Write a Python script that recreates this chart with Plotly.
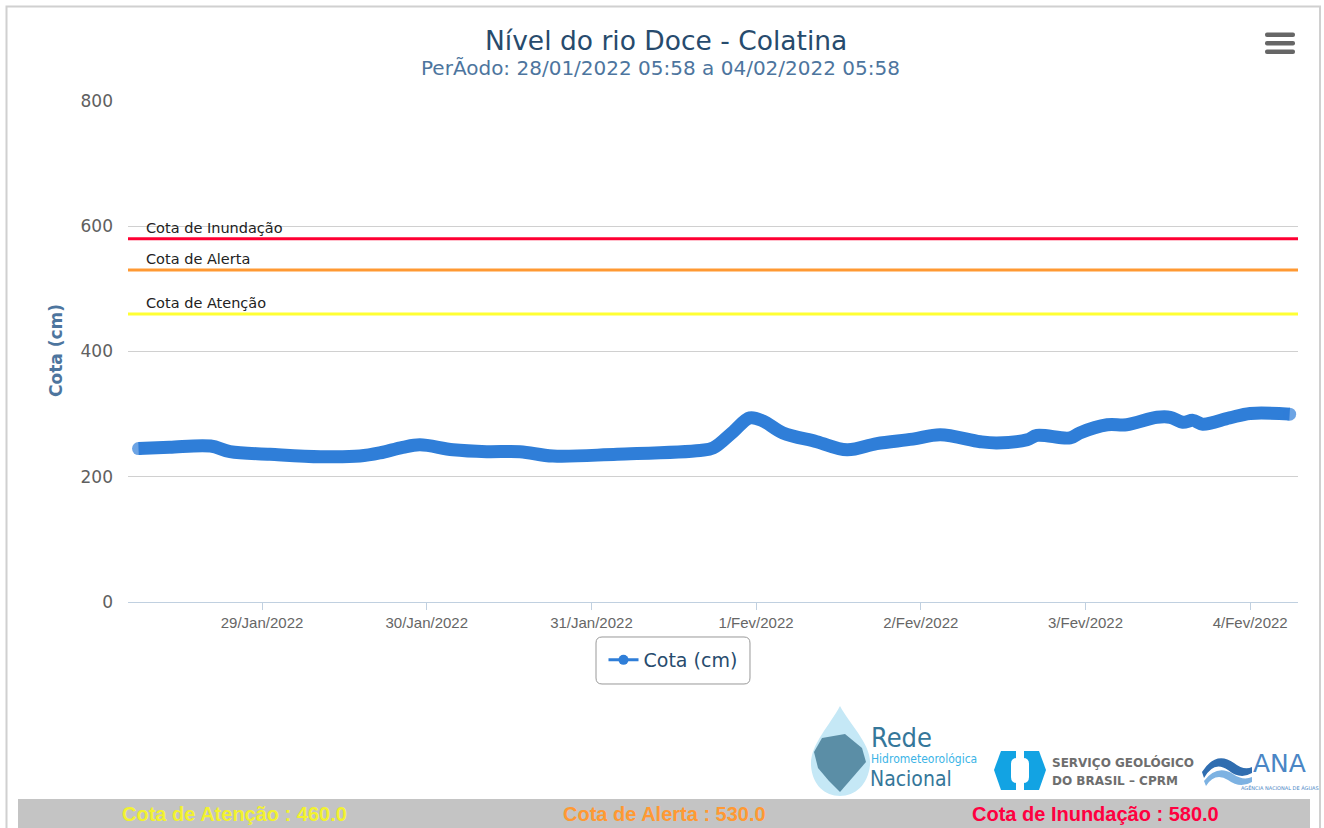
import plotly.graph_objects as go

# ---------------- data ----------------
times = [
    "2022-01-28 06:00", "2022-01-28 10:30", "2022-01-28 16:30", "2022-01-28 19:20",
    "2022-01-29 01:10", "2022-01-29 08:30", "2022-01-29 14:15", "2022-01-29 17:10",
    "2022-01-29 20:30", "2022-01-29 23:00", "2022-01-30 03:50", "2022-01-30 08:45",
    "2022-01-30 13:35", "2022-01-30 18:25", "2022-01-31 03:45", "2022-01-31 15:50",
    "2022-01-31 17:45", "2022-01-31 20:40", "2022-01-31 23:05", "2022-02-01 01:00",
    "2022-02-01 03:55", "2022-02-01 08:50", "2022-02-01 13:15", "2022-02-01 17:35",
    "2022-02-01 22:50", "2022-02-02 02:50", "2022-02-02 08:40", "2022-02-02 11:05",
    "2022-02-02 15:30", "2022-02-02 16:55", "2022-02-02 21:45", "2022-02-02 23:10",
    "2022-02-03 03:10", "2022-02-03 06:00", "2022-02-03 10:25", "2022-02-03 12:20",
    "2022-02-03 14:10", "2022-02-03 15:40", "2022-02-03 17:05", "2022-02-03 21:00",
    "2022-02-04 00:00", "2022-02-04 05:45",
]
cota = [
    245, 247, 249, 240,
    236, 232, 233, 238,
    247, 251, 243, 240,
    240, 233, 236, 242,
    246, 272, 294, 289,
    270, 256, 243, 253,
    260, 267, 256, 254,
    259, 266, 262, 270,
    283, 283, 295, 295,
    287, 290, 284, 294,
    301, 300,
]

tick_vals = ["2022-01-29", "2022-01-30", "2022-01-31", "2022-02-01",
             "2022-02-02", "2022-02-03", "2022-02-04"]
tick_text = ["29/Jan/2022", "30/Jan/2022", "31/Jan/2022", "1/Fev/2022",
             "2/Fev/2022", "3/Fev/2022", "4/Fev/2022"]

limit_names = ["Cota de Atenção", "Cota de Alerta", "Cota de Inundação"]
limit_values = [460, 530, 580]
limit_colors = ["#ffff33", "#ff9933", "#ff0033"]
limit_text_colors = ["#f2f230", "#ff9933", "#ff0040"]

title_text = "Nível do rio Doce - Colatina"
subtitle_text = "PerÃodo: 28/01/2022 05:58 a 04/02/2022 05:58"
series_name = "Cota (cm)"

# ---------------- layout helpers (pixel -> paper) ----------------
W, H = 1324, 828
L, R, T, B = 128, 1298, 101, 602


def px(x):
    return (x - L) / (R - L)


def py(y):
    return (B - y) / (B - T)


def path(cmds):
    out = []
    for c, pts in cmds:
        s = c
        s += " ".join(f"{px(a):.5f},{py(b):.5f}" for a, b in pts)
        out.append(s)
    return " ".join(out) + " Z"


def rrect(x0, y0, x1, y1, r):
    return path([
        ("M", [(x0 + r, y0)]), ("L", [(x1 - r, y0)]), ("Q", [(x1, y0), (x1, y0 + r)]),
        ("L", [(x1, y1 - r)]), ("Q", [(x1, y1), (x1 - r, y1)]), ("L", [(x0 + r, y1)]),
        ("Q", [(x0, y1), (x0, y1 - r)]), ("L", [(x0, y0 + r)]), ("Q", [(x0, y0), (x0 + r, y0)]),
    ])


fig = go.Figure()

marker_sizes = [13] + [0] * (len(cota) - 2) + [13]
fig.add_trace(go.Scatter(
    x=times, y=cota, mode="lines+markers", name=series_name,
    line=dict(color="#2f7ed8", width=13, shape="spline", smoothing=1.0),
    marker=dict(color="#2f7ed8", size=marker_sizes, line=dict(width=0)),
    showlegend=False, hoverinfo="x+y",
))
# legend entry
fig.add_trace(go.Scatter(
    x=[None], y=[None], mode="lines+markers", name=series_name,
    line=dict(color="#2f7ed8", width=3), marker=dict(color="#2f7ed8", size=10),
))

shapes = []
annotations = []

# threshold lines
for name, val, col in zip(limit_names, limit_values, limit_colors):
    shapes.append(dict(type="line", xref="paper", yref="y", x0=0, x1=1, y0=val, y1=val,
                       line=dict(color=col, width=3), layer="below"))
    annotations.append(dict(text=name, xref="paper", yref="y", x=px(144), y=val,
                            xanchor="left", yanchor="bottom", yshift=1, showarrow=False,
                            font=dict(family="DejaVu Sans", size=14.5, color="#222222")))

# outer border
shapes.append(dict(type="rect", xref="paper", yref="paper", x0=px(6.5), x1=px(1320),
                   y0=py(6.5), y1=py(850), line=dict(color="#d0d0d0", width=2), layer="below"))

# hamburger menu
for y0, y1 in [(32.5, 37), (41, 45.5), (49.5, 54)]:
    shapes.append(dict(type="path", xref="paper", yref="paper",
                       path=rrect(1265, y0, 1295, y1, 2), fillcolor="#666666",
                       line=dict(width=0)))

# legend box
shapes.append(dict(type="path", xref="paper", yref="paper", path=rrect(596, 637, 750, 684, 6),
                   line=dict(color="#999999", width=1), fillcolor="rgba(255,255,255,0)"))

# bottom bar
shapes.append(dict(type="rect", xref="paper", yref="paper", x0=px(18), x1=px(1310),
                   y0=py(799), y1=py(850), fillcolor="#c4c4c4", line=dict(width=0)))

# Rede Hidrometeorologica logo (drop + map)
shapes.append(dict(type="path", xref="paper", yref="paper", fillcolor="#c5e8f6",
                   line=dict(width=0),
                   path=path([("M", [(840, 706)]),
                              ("C", [(850, 725), (872, 745), (870, 765)]),
                              ("C", [(868, 785), (855, 796), (840, 796)]),
                              ("C", [(825, 796), (812, 785), (811, 765)]),
                              ("C", [(810, 745), (830, 725), (840, 706)])])))
shapes.append(dict(type="path", xref="paper", yref="paper", fillcolor="#5b8ea6",
                   line=dict(width=0),
                   path=path([("M", [(822, 738)]), ("L", [(845, 734)]), ("L", [(862, 748)]),
                              ("L", [(866, 762)]), ("L", [(853, 777)]), ("L", [(840, 792)]),
                              ("L", [(829, 781)]), ("L", [(818, 768)]), ("L", [(814, 752)])])))
# CPRM logo
shapes.append(dict(type="path", xref="paper", yref="paper", fillcolor="#12a3e3",
                   line=dict(width=0),
                   path=path([("M", [(1001, 751)]), ("L", [(1039, 751)]), ("L", [(1046, 770)]),
                              ("L", [(1039, 790)]), ("L", [(1001, 790)]), ("L", [(994, 770)])])))
shapes.append(dict(type="path", xref="paper", yref="paper", fillcolor="white",
                   line=dict(width=0), path=rrect(1011, 758, 1029, 783, 6)))
shapes.append(dict(type="rect", xref="paper", yref="paper", fillcolor="white",
                   line=dict(width=0), x0=px(1016), x1=px(1024), y0=py(749), y1=py(760)))
shapes.append(dict(type="rect", xref="paper", yref="paper", fillcolor="white",
                   line=dict(width=0), x0=px(1016), x1=px(1024), y0=py(781), y1=py(792)))
# ANA logo waves
shapes.append(dict(type="path", xref="paper", yref="paper", fillcolor="#2f6db0",
                   line=dict(width=0),
                   path=path([("M", [(1202, 772)]), ("Q", [(1216, 750), (1234, 763)]),
                              ("Q", [(1244, 771), (1252, 767)]), ("L", [(1252, 773)]),
                              ("Q", [(1240, 780), (1228, 770)]), ("Q", [(1214, 760), (1204, 778)])])))
shapes.append(dict(type="path", xref="paper", yref="paper", fillcolor="#7db2e2",
                   line=dict(width=0),
                   path=path([("M", [(1204, 781)]), ("Q", [(1217, 764), (1233, 774)]),
                              ("Q", [(1243, 781), (1252, 777)]), ("L", [(1252, 782)]),
                              ("Q", [(1240, 789), (1228, 780)]), ("Q", [(1215, 772), (1206, 786)])])))

# title / subtitle
annotations.append(dict(text=title_text, xref="paper", yref="paper", x=px(666), y=py(41),
                        xanchor="center", yanchor="middle", showarrow=False,
                        font=dict(family="DejaVu Sans", size=26.5, color="#274b6d")))
annotations.append(dict(text=subtitle_text, xref="paper", yref="paper", x=px(660), y=py(68),
                        xanchor="center", yanchor="middle", showarrow=False,
                        font=dict(family="DejaVu Sans", size=20, color="#4d759e")))
# y-axis title
annotations.append(dict(text="<b>Cota (cm)</b>", xref="paper", yref="paper", x=px(56),
                        y=py(351), textangle=-90, xanchor="center", yanchor="middle",
                        showarrow=False,
                        font=dict(family="DejaVu Sans", size=17, color="#4d759e")))

# logo texts
logo_texts = [
    dict(text="Rede", x=px(869), y=py(737), xanchor="left", yanchor="middle",
         font=dict(family="DejaVu Sans Condensed", size=27, color="#35779a")),
    dict(text="Hidrometeorológica", x=px(869), y=py(759), xanchor="left", yanchor="middle",
         font=dict(family="DejaVu Sans Condensed", size=12, color="#3bb4e6")),
    dict(text="Nacional", x=px(868), y=py(779), xanchor="left", yanchor="middle",
         font=dict(family="DejaVu Sans Condensed", size=21, color="#35779a")),
    dict(text="<b>SERVIÇO GEOLÓGICO</b>", x=px(1050), y=py(762), xanchor="left", yanchor="middle",
         font=dict(family="DejaVu Sans", size=12, color="#6e6e6e")),
    dict(text="<b>DO BRASIL – CPRM</b>", x=px(1050), y=py(781), xanchor="left", yanchor="middle",
         font=dict(family="DejaVu Sans", size=12, color="#6e6e6e")),
    dict(text="ANA", x=px(1279), y=py(763), xanchor="center", yanchor="middle",
         font=dict(family="DejaVu Sans", size=25, color="#4a86c5")),
    dict(text="AGÊNCIA NACIONAL DE ÁGUAS", x=px(1280), y=py(788), xanchor="center",
         yanchor="middle", font=dict(family="DejaVu Sans", size=5, color="#4a86c5")),
]
for a in logo_texts:
    a.update(xref="paper", yref="paper", showarrow=False)
annotations += logo_texts

# bottom bar texts
for name, val, col, cx in zip(limit_names, limit_values, limit_text_colors, [234, 664, 1095]):
    annotations.append(dict(text=f"<b>{name} : {val:.1f}</b>", xref="paper", yref="paper",
                            x=px(cx), y=py(814), xanchor="center", yanchor="middle",
                            showarrow=False,
                            font=dict(family="Liberation Sans", size=20, color=col)))

fig.update_layout(
    width=W, height=H,
    margin=dict(l=L, r=W - R, t=T, b=H - B, autoexpand=False),
    paper_bgcolor="white", plot_bgcolor="white",
    shapes=shapes, annotations=annotations,
    showlegend=True,
    legend=dict(orientation="h", x=px(673), y=py(660), xanchor="center", yanchor="middle",
                bgcolor="rgba(0,0,0,0)", borderwidth=0,
                font=dict(family="DejaVu Sans", size=19, color="#274b6d")),
    xaxis=dict(type="date", range=["2022-01-28 04:28", "2022-02-04 06:58"],
               tickvals=tick_vals, ticktext=tick_text, showgrid=False,
               showline=True, linecolor="#c0d0e0", linewidth=1,
               ticks="outside", ticklen=7, tickcolor="#c0d0e0",
               tickfont=dict(family="Liberation Sans", size=15, color="#666666"),
               zeroline=False, fixedrange=True),
    yaxis=dict(range=[0, 800], tickvals=[0, 200, 400, 600, 800], showgrid=True,
               gridcolor="#d0d0d0", gridwidth=1, zeroline=False, showline=False,
               ticklabelstandoff=14,
               tickfont=dict(family="DejaVu Sans", size=17, color="#606060"),
               fixedrange=True),
)

fig.write_html("out.html", config={"displayModeBar": False},
               post_script="document.body.style.margin='0';document.body.style.overflow='hidden';")
